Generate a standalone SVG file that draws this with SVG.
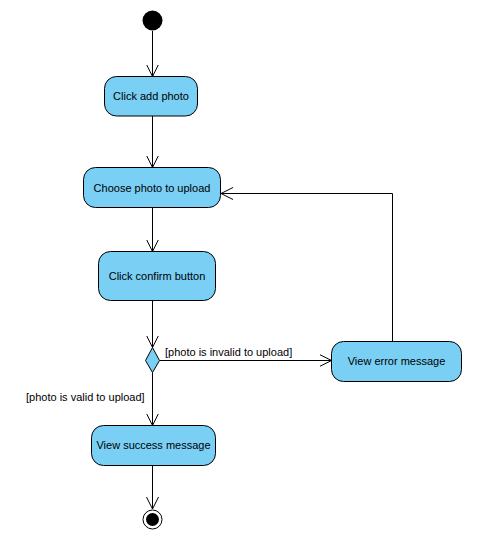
<svg xmlns="http://www.w3.org/2000/svg" width="484" height="542" viewBox="0 0 484 542">
<style>
.node{fill:#7acff5;stroke:#000;stroke-width:1}
.t{font-family:"Liberation Sans",Arial,sans-serif;font-size:11px;fill:#000;text-anchor:middle}
.g{font-family:"Liberation Sans",Arial,sans-serif;font-size:11px;fill:#000}
.c{fill:none;stroke:#000;stroke-width:1}
</style>
<defs>
<marker id="arr" markerUnits="userSpaceOnUse" markerWidth="14" markerHeight="14" refX="12" refY="6" orient="auto" viewBox="0 0 14 12">
<path d="M0,0 L12,6 L0,12" fill="none" stroke="#000" stroke-width="1"/>
</marker>
</defs>
<rect width="484" height="542" fill="#fff"/>
<g id="connectors">
<path class="c" d="M152.5,31 V76.5" marker-end="url(#arr)"/>
<path class="c" d="M152.5,116 V167.5" marker-end="url(#arr)"/>
<path class="c" d="M152.5,207.5 V251.5" marker-end="url(#arr)"/>
<path class="c" d="M152.5,300.5 V347.5" marker-end="url(#arr)"/>
<path class="c" d="M159.5,360.5 H331.5" marker-end="url(#arr)"/>
<path class="c" d="M152.5,372.5 V425.5" marker-end="url(#arr)"/>
<path class="c" d="M152.5,465.5 V509" marker-end="url(#arr)"/>
<path class="c" d="M392.5,341.5 V193.5 H221" marker-end="url(#arr)"/>
<text class="g" x="165" y="356">[photo is invalid to upload]</text>
<text class="g" x="26" y="401">[photo is valid to upload]</text>
</g>
<g id="start"><circle cx="152.5" cy="20.5" r="10" fill="#000"/></g>
<g id="click-add-photo"><rect class="node" x="104.5" y="76.5" width="93" height="39.5" rx="12"/><text class="t" x="151" y="100">Click add photo</text></g>
<g id="choose-photo"><rect class="node" x="83.5" y="167.5" width="137" height="40" rx="12"/><text class="t" x="152" y="191.5">Choose photo to upload</text></g>
<g id="click-confirm"><rect class="node" x="98.5" y="251.5" width="117" height="49" rx="12"/><text class="t" x="157" y="280">Click confirm button</text></g>
<g id="decision"><path class="node" d="M152.5,347.5 L159.5,360.5 L152.5,372.5 L145.5,360.5 Z"/></g>
<g id="view-error"><rect class="node" x="331.5" y="341.5" width="130" height="40" rx="12"/><text class="t" x="396.5" y="365">View error message</text></g>
<g id="view-success"><rect class="node" x="91.5" y="425.5" width="124" height="40" rx="12"/><text class="t" x="153.5" y="449">View success message</text></g>
<g id="end"><circle cx="152.5" cy="519.5" r="9.5" fill="#fff" stroke="#000" stroke-width="1"/><circle cx="152.5" cy="519.5" r="6.5" fill="#000"/></g>
</svg>
